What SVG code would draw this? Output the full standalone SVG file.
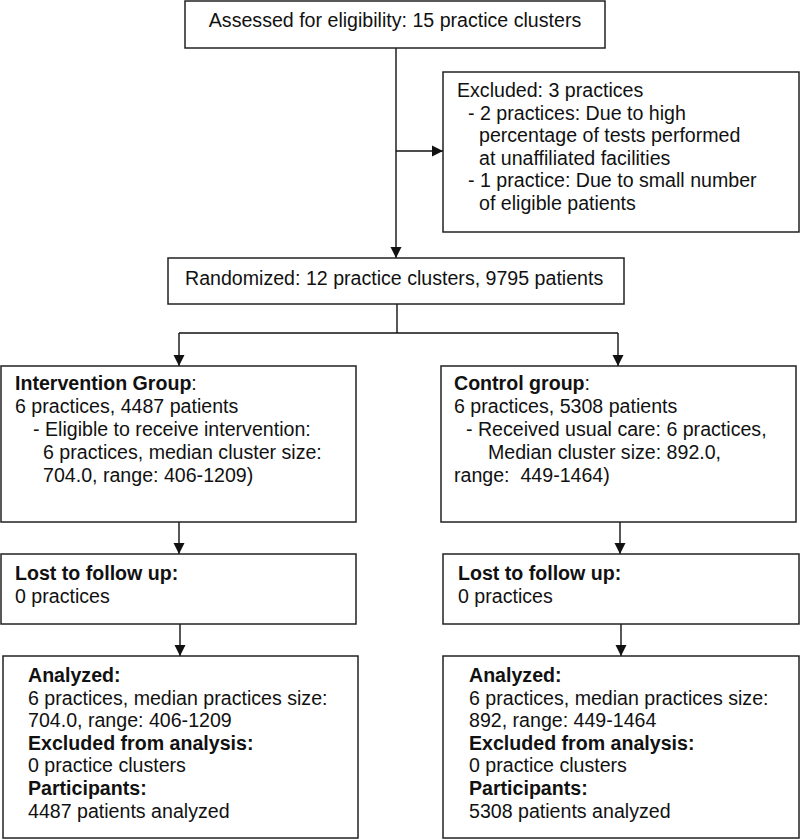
<svg xmlns="http://www.w3.org/2000/svg" width="800" height="839" viewBox="0 0 800 839">
<style>
.box{fill:#fff;stroke:#222;stroke-width:1.5}
.t{font-family:"Liberation Sans",Arial,sans-serif;font-size:19.6px;fill:#111}
.b{font-weight:bold}
.c{fill:none;stroke:#111;stroke-width:1.4}
</style>
<defs>
<marker id="arr" markerUnits="userSpaceOnUse" markerWidth="12" markerHeight="12" refX="11" refY="6" orient="auto">
<path d="M0,0.5 L11,6 L0,11.5 z" fill="#111"/>
</marker>
</defs>
<rect width="800" height="839" fill="#fff"/>
<g id="connectors">
<line class="c" x1="396" y1="48" x2="396" y2="258" marker-end="url(#arr)"/>
<line class="c" x1="396" y1="151" x2="443" y2="151" marker-end="url(#arr)"/>
<line class="c" x1="397" y1="304" x2="397" y2="333"/>
<line class="c" x1="179" y1="333" x2="618" y2="333"/>
<line class="c" x1="179" y1="333" x2="179" y2="366" marker-end="url(#arr)"/>
<line class="c" x1="618" y1="333" x2="618" y2="366" marker-end="url(#arr)"/>
<line class="c" x1="179" y1="522" x2="179" y2="554" marker-end="url(#arr)"/>
<line class="c" x1="620" y1="522" x2="620" y2="554" marker-end="url(#arr)"/>
<line class="c" x1="180" y1="624" x2="180" y2="656" marker-end="url(#arr)"/>
<line class="c" x1="621" y1="624" x2="621" y2="656" marker-end="url(#arr)"/>
</g>
<g id="assessed">
<rect class="box" x="185" y="1" width="420" height="47"/>
<text class="t" x="395" y="27" text-anchor="middle">Assessed for eligibility: 15 practice clusters</text>
</g>
<g id="excluded">
<rect class="box" x="443" y="72" width="356" height="160"/>
<text class="t" x="457" y="97">Excluded: 3 practices</text>
<text class="t" x="468" y="119.6">- 2 practices: Due to high</text>
<text class="t" x="479" y="142.2">percentage of tests performed</text>
<text class="t" x="479" y="164.8">at unaffiliated facilities</text>
<text class="t" x="468" y="187.4">- 1 practice: Due to small number</text>
<text class="t" x="479" y="210">of eligible patients</text>
</g>
<g id="randomized">
<rect class="box" x="168" y="258" width="456" height="46"/>
<text class="t" x="185" y="285">Randomized: 12 practice clusters, 9795 patients</text>
</g>
<g id="intervention">
<rect class="box" x="1" y="366" width="355" height="156"/>
<text class="t" x="15" y="390"><tspan class="b">Intervention Group</tspan>:</text>
<text class="t" x="15" y="413">6 practices, 4487 patients</text>
<text class="t" x="33" y="436">- Eligible to receive intervention:</text>
<text class="t" x="43" y="459">6 practices, median cluster size:</text>
<text class="t" x="43" y="481.5">704.0, range: 406-1209)</text>
</g>
<g id="control">
<rect class="box" x="441" y="366" width="355" height="156"/>
<text class="t" x="454" y="390"><tspan class="b">Control group</tspan>:</text>
<text class="t" x="454" y="413">6 practices, 5308 patients</text>
<text class="t" x="466" y="436">- Received usual care: 6 practices,</text>
<text class="t" x="488" y="459">Median cluster size: 892.0,</text>
<text class="t" x="454" y="481.5" xml:space="preserve">range:  449-1464)</text>
</g>
<g id="lost-left">
<rect class="box" x="1" y="554" width="355" height="70"/>
<text class="t b" x="15" y="580">Lost to follow up:</text>
<text class="t" x="15" y="603">0 practices</text>
</g>
<g id="lost-right">
<rect class="box" x="443" y="554" width="356" height="70"/>
<text class="t b" x="458" y="580">Lost to follow up:</text>
<text class="t" x="458" y="603">0 practices</text>
</g>
<g id="analyzed-left">
<rect class="box" x="3" y="656" width="355" height="182"/>
<text class="t b" x="28" y="682">Analyzed:</text>
<text class="t" x="28" y="705">6 practices, median practices size:</text>
<text class="t" x="28" y="727">704.0, range: 406-1209</text>
<text class="t b" x="28" y="750">Excluded from analysis:</text>
<text class="t" x="28" y="772">0 practice clusters</text>
<text class="t b" x="28" y="795">Participants:</text>
<text class="t" x="28" y="818">4487 patients analyzed</text>
</g>
<g id="analyzed-right">
<rect class="box" x="443" y="656" width="356" height="182"/>
<text class="t b" x="469" y="682">Analyzed:</text>
<text class="t" x="469" y="705">6 practices, median practices size:</text>
<text class="t" x="469" y="727">892, range: 449-1464</text>
<text class="t b" x="469" y="750">Excluded from analysis:</text>
<text class="t" x="469" y="772">0 practice clusters</text>
<text class="t b" x="469" y="795">Participants:</text>
<text class="t" x="469" y="818">5308 patients analyzed</text>
</g>
</svg>
